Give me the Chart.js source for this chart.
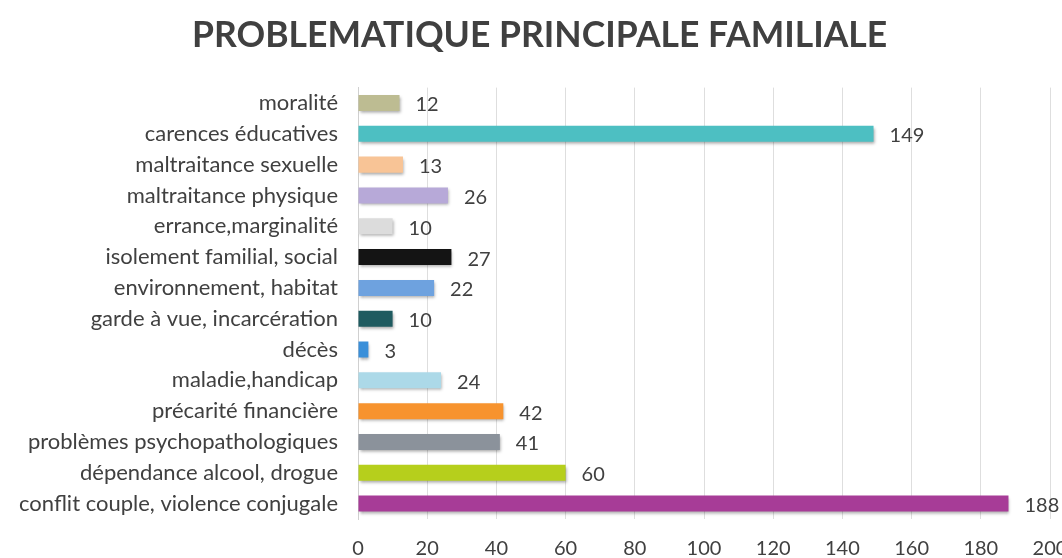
<!DOCTYPE html>
<html>
<head>
<meta charset="utf-8">
<script src="https://cdn.jsdelivr.net/npm/chart.js@4/dist/chart.umd.min.js"></script>
<style>
  html, body { margin: 0; padding: 0; background: #fff; overflow: hidden; }
  #wrap { width: 1062px; height: 558px; position: relative; }
</style>
</head>
<body>
<div id="wrap"><canvas id="chart"></canvas></div>
<script>
// --- DATA ---
const categories = [
  'moralité',
  'carences éducatives',
  'maltraitance sexuelle',
  'maltraitance physique',
  'errance,marginalité',
  'isolement familial, social',
  'environnement, habitat',
  'garde à vue, incarcération',
  'décès',
  'maladie,handicap',
  'précarité financière',
  'problèmes psychopathologiques',
  'dépendance alcool, drogue',
  'conflit couple, violence conjugale'
];
const values = [12, 149, 13, 26, 10, 27, 22, 10, 3, 24, 42, 41, 60, 188];
const barColors = [
  '#bdbc92', '#4dbfc2', '#f8c496', '#b7a9d8', '#dcdcdc', '#141414', '#6ea2df',
  '#1f5b60', '#3a8fd9', '#acd9e8', '#f7932e', '#8b929b', '#b6cf1c', '#a73c97'
];
const xMin = 0, xMax = 200, xStep = 20;

const TEXT = '#404040';
const FONT = 'Lato, "Open Sans", sans-serif';

// soft shadow under the bars, like the 3d-ish office style
const barShadow = {
  id: 'barShadow',
  beforeDatasetsDraw(chart) {
    const c = chart.ctx;
    c.save();
    c.shadowColor = 'rgba(0,0,0,0.35)';
    c.shadowBlur = 3;
    c.shadowOffsetX = 1;
    c.shadowOffsetY = 2;
  },
  afterDatasetsDraw(chart) {
    chart.ctx.restore();
  }
};

// value labels at the end of each bar
const valueLabels = {
  id: 'valueLabels',
  afterDraw(chart) {
    const c = chart.ctx;
    const meta = chart.getDatasetMeta(0);
    c.save();
    c.font = '20px ' + FONT;
    c.fillStyle = TEXT;
    c.textAlign = 'left';
    c.textBaseline = 'middle';
    meta.data.forEach((bar, i) => {
      c.fillText(String(values[i]), bar.x + 16, bar.y + 2);
    });
    c.restore();
  }
};

new Chart(document.getElementById('chart'), {
  type: 'bar',
  data: {
    labels: categories,
    datasets: [{
      data: values,
      backgroundColor: barColors,
      borderWidth: 0,
      categoryPercentage: 1,
      barPercentage: 0.52
    }]
  },
  options: {
    indexAxis: 'y',
    responsive: true,
    maintainAspectRatio: false,
    animation: false,
    layout: { padding: 0 },
    plugins: {
      legend: { display: false },
      tooltip: { enabled: false },
      title: {
        display: true,
        // leading spaces nudge the centred title a little to the right
        text: '\u00A0\u00A0PROBLEMATIQUE PRINCIPALE FAMILIALE',
        color: TEXT,
        font: { family: FONT, size: 35.5, weight: 'bold' },
        padding: { top: 14, bottom: 31 }
      }
    },
    scales: {
      x: {
        min: xMin,
        max: xMax,
        ticks: { stepSize: xStep, color: TEXT, font: { family: FONT, size: 20 }, padding: 18 },
        grid: { color: '#dedede', drawTicks: false },
        border: { display: false },
        afterFit(scale) { scale.height = 39; scale.paddingRight = 12; }
      },
      y: {
        ticks: { color: TEXT, font: { family: FONT, size: 22 }, padding: 12, autoSkip: false },
        grid: { display: false },
        border: { display: true, color: '#d0d0d0' },
        afterFit(scale) { scale.width = 358; }
      }
    }
  },
  plugins: [barShadow, valueLabels]
});
</script>
</body>
</html>
